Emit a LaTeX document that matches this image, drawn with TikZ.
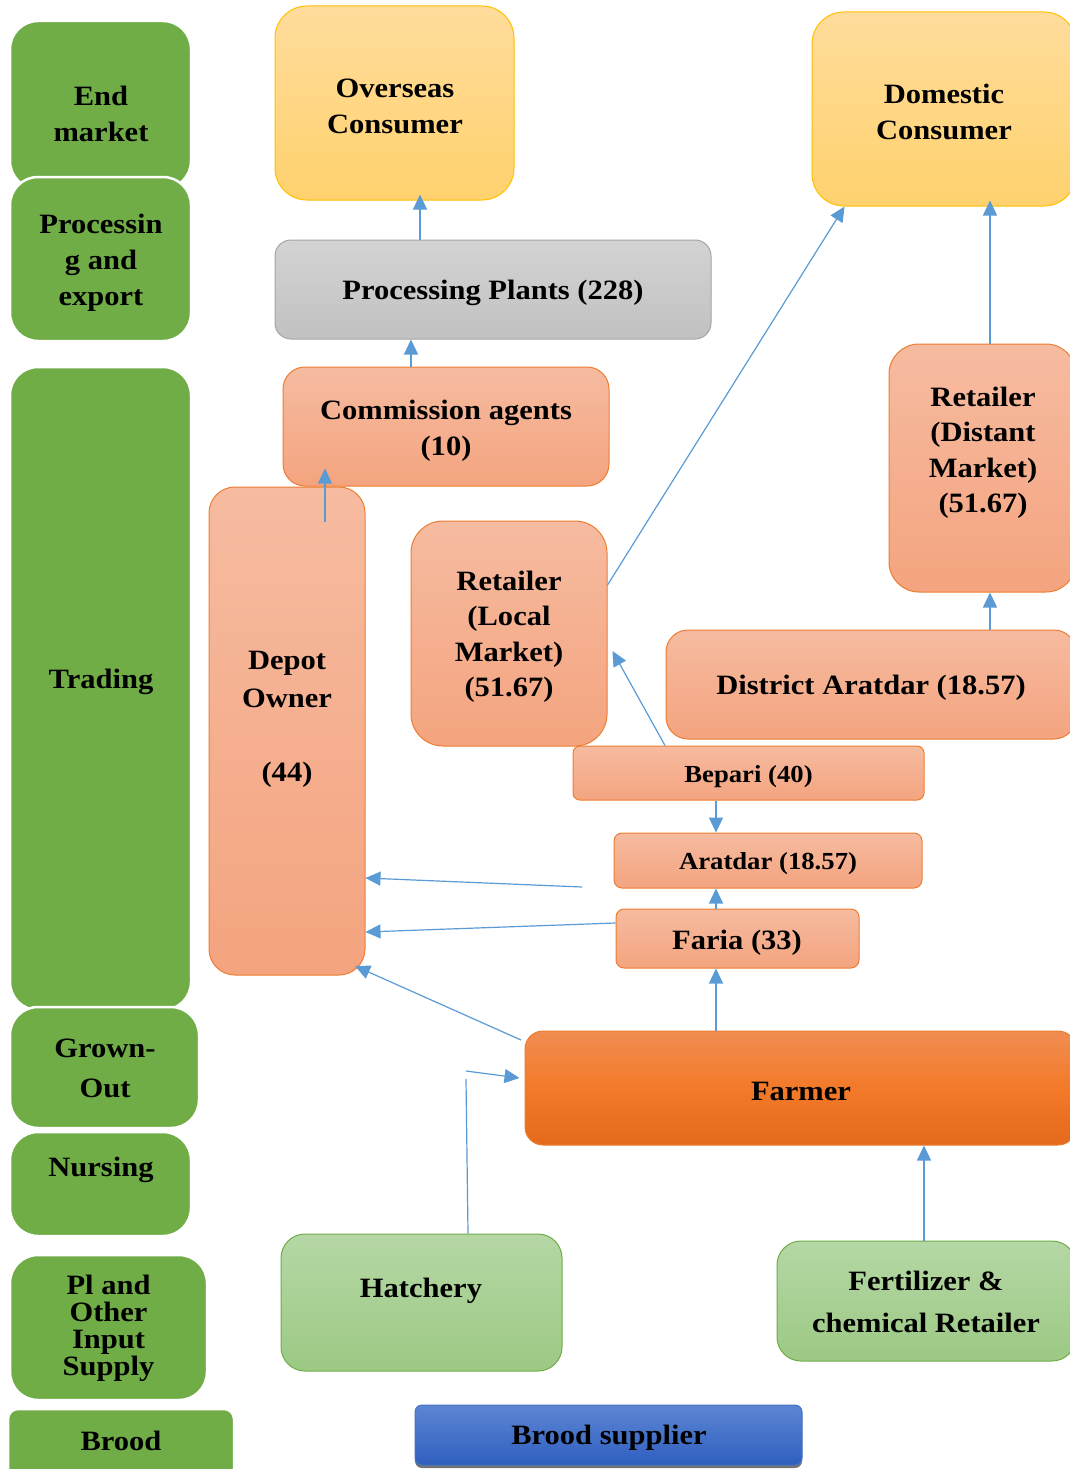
\documentclass[tikz,border=0pt]{standalone}
\usepackage{fontspec}
\setmainfont{Liberation Serif}[FakeStretch=1.09]
\usetikzlibrary{arrows.meta,shadows}
\definecolor{grn}{HTML}{70AD47}
\definecolor{orT}{HTML}{F6BBA0}
\definecolor{orB}{HTML}{F4A47F}
\definecolor{orD}{HTML}{ED7D31}
\definecolor{yeT}{HTML}{FFDC9C}
\definecolor{yeB}{HTML}{FFD26E}
\definecolor{yeD}{HTML}{FFC000}
\definecolor{gyT}{HTML}{D3D3D3}
\definecolor{gyB}{HTML}{C1C1C1}
\definecolor{gyD}{HTML}{A5A5A5}
\definecolor{faT}{HTML}{F18D52}
\definecolor{faM}{HTML}{F27A29}
\definecolor{faB}{HTML}{E5691B}
\definecolor{lgT}{HTML}{B5D7A5}
\definecolor{lgB}{HTML}{9CC984}
\definecolor{blT}{HTML}{5C86D4}
\definecolor{blB}{HTML}{2F5EBF}
\definecolor{blD}{HTML}{4472C4}
\definecolor{arr}{HTML}{5B9BD5}
\newcommand\myfs[2]{\fontsize{#1}{#2}\selectfont\bfseries}
\tikzset{
  base/.style={rectangle, inner sep=0pt, align=center, font=\myfs{28}{36}},
  grnbox/.style={base, fill=grn, draw=white, line width=2.5pt, rounded corners=28pt},
  orbox/.style={base, top color=orT, bottom color=orB, draw=orD, line width=1pt},
  yebox/.style={base, top color=yeT, bottom color=yeB, draw=yeD, line width=1pt, rounded corners=32pt},
  gybox/.style={base, top color=gyT, bottom color=gyB, draw=gyD, line width=1pt, rounded corners=16pt},
  fabox/.style={base, top color=faT, bottom color=faB, middle color=faM, draw=orD, line width=1pt, rounded corners=18pt},
  lgbox/.style={base, top color=lgT, bottom color=lgB, draw=grn, line width=1pt, rounded corners=24pt},
  blbox/.style={base, top color=blT, bottom color=blB, draw=blD, line width=1pt, rounded corners=7pt,
     drop shadow={shadow xshift=0pt, shadow yshift=-3pt, fill=black!55, opacity=1}},
  txt/.style={inner sep=0pt, align=center, font=\myfs{28}{36}, yshift=-2pt},
  con/.style={draw=arr, line width=1.2pt, -{Triangle[length=15pt,width=14pt]}},
  conplain/.style={draw=arr, line width=1.2pt}
}
\begin{document}
\begin{tikzpicture}[x=1pt,y=-1pt]
\clip (0,0) rectangle (1070,1469);
\fill[white] (0,0) rectangle (1070,1469);

% ---------- left stage column ----------
\node[grnbox, minimum width=181pt, minimum height=168pt] (endm) at (100.5,105) {};
\node[txt] (endmt) at (101,112) {End\\market};
\node[grnbox, minimum width=181pt, minimum height=164pt] (proc) at (100.5,259) {};
\node[txt] (proct) at (101,261) {Processin\\g and\\export};
\node[grnbox, minimum width=181pt, minimum height=643pt] (trad) at (100.5,688.5) {};
\node[txt] (tradt) at (101,680) {Trading};
\node[grnbox, minimum width=189pt, minimum height=121pt] (grow) at (104.5,1067.5) {};
\node[txt, font=\myfs{28}{40}] (growt) at (105,1066) {Grown-\\Out};
\node[grnbox, minimum width=181pt, minimum height=104pt] (nurs) at (100.5,1184) {};
\node[txt] (nurst) at (101,1168) {Nursing};
\node[grnbox, minimum width=197pt, minimum height=145pt] (plin) at (108.5,1327.5) {};
\node[txt, font=\myfs{28}{27}] (plint) at (108.5,1326) {Pl and\\Other\\Input\\Supply};
\node[grnbox, rounded corners=10pt, minimum width=226pt, minimum height=100pt] (brood) at (121,1459) {};
\node[txt] (broodt) at (121,1439) {Brood};

% ---------- consumers / processing ----------
\node[yebox, minimum width=239pt, minimum height=194pt] (over) at (394.5,103) {};
\node[txt] (overt) at (395,104) {Overseas\\Consumer};
\node[yebox, minimum width=264pt, minimum height=194pt] (dom) at (944,109) {};
\node[txt] (domt) at (944,110) {Domestic\\Consumer};
\node[gybox, minimum width=436pt, minimum height=99pt] (pp) at (493,289.5) {};
\node[txt] (ppt) at (493,291) {Processing Plants (228)};

% ---------- trading ----------
\node[orbox, rounded corners=22pt, minimum width=326pt, minimum height=119pt] (comm) at (446,426.5) {};
\node[txt] (commt) at (446,429) {Commission agents\\(10)};
\node[orbox, rounded corners=26pt, minimum width=156pt, minimum height=488pt] (depot) at (287,731) {};
\node[txt, font=\myfs{28}{38}] (depott) at (287,717) {Depot\\Owner\\[-2pt]~\\(44)};
\node[orbox, rounded corners=32pt, minimum width=196pt, minimum height=225pt] (retl) at (509,633.5) {};
\node[txt, font=\myfs{28}{35.5}] (retlt) at (509,635) {Retailer\\(Local\\Market)\\(51.67)};
\node[orbox, rounded corners=30pt, minimum width=187pt, minimum height=248pt] (retd) at (982.5,468) {};
\node[txt, font=\myfs{28}{35.5}] (retdt) at (983,451) {Retailer\\(Distant\\Market)\\(51.67)};
\node[orbox, rounded corners=22pt, minimum width=410pt, minimum height=109pt] (dist) at (871,684.5) {};
\node[txt] (distt) at (871,686) {District Aratdar (18.57)};
\node[orbox, rounded corners=7pt, minimum width=351pt, minimum height=54pt] (bep) at (748.5,773) {};
\node[txt, font=\myfs{24.5}{30}] (bept) at (748.5,775) {Bepari (40)};
\node[orbox, rounded corners=8pt, minimum width=308pt, minimum height=55pt] (ara) at (768,860.5) {};
\node[txt, font=\myfs{24.5}{30}] (arat) at (768,862) {Aratdar (18.57)};
\node[orbox, rounded corners=8pt, minimum width=243pt, minimum height=59pt] (far) at (737.5,938.5) {};
\node[txt] (fart) at (737,941) {Faria (33)};

% ---------- production ----------
\node[fabox, minimum width=551pt, minimum height=114pt] (farmer) at (800.5,1088) {};
\node[txt] (farmert) at (801,1089) {Farmer};
\node[lgbox, minimum width=281pt, minimum height=137pt] (hat) at (421.5,1302.5) {};
\node[txt] (hatt) at (421,1289) {Hatchery};
\node[lgbox, minimum width=299pt, minimum height=120pt] (fert) at (926.5,1301) {};
\node[txt, font=\myfs{28}{42}] (fertt) at (926,1300) {Fertilizer \&\\chemical Retailer};
\node[blbox, minimum width=387pt, minimum height=60pt] (bs) at (608.5,1435) {};
\node[txt] (bst) at (609,1436) {Brood supplier};

% ---------- connectors ----------
\draw[con] (pp.north -| 420,0) -- ([yshift=6pt]over.south -| 420,0);
\draw[con] (comm.north -| 411,0) -- (pp.south -| 411,0);
\coordinate (depin) at (325,522);
\draw[con] (depin) -- ([yshift=18pt]comm.south -| 325,0);
\draw[con] (retl.east |- 0,585) -- ([xshift=33pt]dom.south west);
\draw[con] (bep.north -| 665,0) -- ([xshift=5pt]retl.east |- 0,651);
\draw[con] (retd.north -| 990,0) -- ([yshift=6pt]dom.south -| 990,0);
\draw[con] (dist.north -| 990,0) -- (retd.south -| 990,0);
\draw[con] (bep.south -| 716,0) -- (ara.north -| 716,0);
\draw[con] (far.north -| 716,0) -- (ara.south -| 716,0);
\draw[con] (farmer.north -| 716,0) -- (far.south -| 716,0);
\coordinate (aras) at (582,887);
\draw[con] (aras) -- (depot.east |- 0,878);
\draw[con] (far.west |- 0,923) -- (depot.east |- 0,932);
\coordinate (farnw) at (521,1040);
\draw[con] (farnw) -- (355,966);
\coordinate (hatup) at (466,1079);
\coordinate (hatto) at (466,1071);
\draw[conplain] (hat.north -| 468,0) -- (hatup);
\draw[con] (hatto) -- ([xshift=-5pt]farmer.west |- 0,1078);
\draw[con] (fert.north -| 924,0) -- (farmer.south -| 924,0);
\end{tikzpicture}
\end{document}
